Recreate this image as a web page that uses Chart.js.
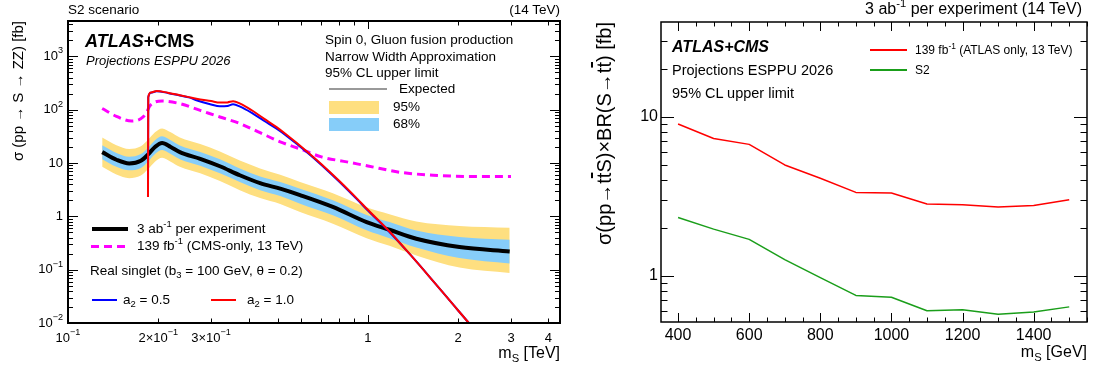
<!DOCTYPE html>
<html>
<head>
<meta charset="utf-8">
<script src="https://cdn.jsdelivr.net/npm/chart.js@4.4.1/dist/chart.umd.min.js"></script>
<style>
  body { margin: 0; background: #fff; }
  #page { position: relative; width: 1099px; height: 372px; overflow: hidden;
          font-family: 'Liberation Sans', Arial, Helvetica, sans-serif; color: #000; }
  canvas { position: absolute; top: 0; }
  .t { position: absolute; white-space: nowrap; line-height: 1; }
  .t sup, .t sub { font-size: 0.7em; line-height: 0; }
  .t sup { vertical-align: 0.6em; }
  .t sub { vertical-align: -0.35em; }
  .sw { position: absolute; }
  .bar { text-decoration: overline; }
  .rot { transform: rotate(-90deg); transform-origin: left top; width: 300px; text-align: right; }
</style>
</head>
<body>
<div id="page">
  <canvas id="zz" width="580" height="372" style="left:0"></canvas>
  <canvas id="tt" width="519" height="372" style="left:580px"></canvas>

  <!-- left panel: S -> ZZ -->
  <div class="t" style="left:68px;top:3px;font-size:13.5px">S2 scenario</div>
  <div class="t" style="right:539px;top:3px;font-size:13.5px">(14 TeV)</div>
  <div class="t" style="left:85px;top:32px;font-size:18px;font-weight:bold"><i>ATLAS</i>+CMS</div>
  <div class="t" style="left:86px;top:54px;font-size:13px;font-style:italic">Projections ESPPU 2026</div>
  <div class="t" style="left:325px;top:33px;font-size:13.5px">Spin 0, Gluon fusion production</div>
  <div class="t" style="left:325px;top:50px;font-size:13.5px">Narrow Width Approximation</div>
  <div class="t" style="left:325px;top:66px;font-size:13.5px">95% CL upper limit</div>
  <div class="sw" style="left:329px;top:88px;width:58px;height:1.5px;background:#999"></div>
  <div class="t" style="left:399px;top:82px;font-size:13.5px">Expected</div>
  <div class="sw" style="left:329px;top:101px;width:50px;height:13px;background:#fedf80"></div>
  <div class="t" style="left:393px;top:100px;font-size:13.5px">95%</div>
  <div class="sw" style="left:329px;top:118px;width:50px;height:13px;background:#86cdf9"></div>
  <div class="t" style="left:393px;top:117px;font-size:13.5px">68%</div>

  <div class="sw" style="left:92px;top:227px;width:36px;height:4px;background:#000"></div>
  <div class="t" style="left:137px;top:222px;font-size:13.5px">3 ab<sup>-1</sup> per experiment</div>
  <div class="sw" style="left:91px;top:244.5px;width:38px;height:3px;background:repeating-linear-gradient(to right,#f0f 0 8px,transparent 8px 13px)"></div>
  <div class="t" style="left:137px;top:239px;font-size:13.5px">139 fb<sup>-1</sup> (CMS-only, 13 TeV)</div>
  <div class="t" style="left:90px;top:264px;font-size:13.5px">Real singlet (b<sub>3</sub> = 100 GeV, θ = 0.2)</div>
  <div class="sw" style="left:92px;top:299px;width:25px;height:2px;background:#00f"></div>
  <div class="t" style="left:123px;top:293px;font-size:13.5px">a<sub>2</sub> = 0.5</div>
  <div class="sw" style="left:211px;top:299px;width:25px;height:2px;background:#f00"></div>
  <div class="t" style="left:247px;top:293px;font-size:13.5px">a<sub>2</sub> = 1.0</div>

  <div class="t rot" style="left:9.5px;top:321px;font-size:15px">σ (pp → S → ZZ) [fb]</div>
  <div class="t" style="right:539px;top:345px;font-size:16px">m<sub>S</sub> [TeV]</div>

  <!-- right panel: ttS, S -> tt -->
  <div class="t" style="right:17px;top:1px;font-size:16px">3 ab<sup>-1</sup> per experiment (14 TeV)</div>
  <div class="t" style="left:672px;top:39px;font-size:16px;font-weight:bold;font-style:italic">ATLAS+CMS</div>
  <div class="t" style="left:672px;top:63px;font-size:14.5px">Projections ESPPU 2026</div>
  <div class="t" style="left:672px;top:86px;font-size:14.5px">95% CL upper limit</div>
  <div class="sw" style="left:870px;top:49.3px;width:37px;height:1.5px;background:#f00"></div>
  <div class="t" style="left:915px;top:44px;font-size:12px">139 fb<sup>-1</sup> (ATLAS only, 13 TeV)</div>
  <div class="sw" style="left:870px;top:69.3px;width:37px;height:1.5px;background:#1a9e1a"></div>
  <div class="t" style="left:915px;top:64px;font-size:12px">S2</div>

  <div class="t rot" style="left:594px;top:322px;font-size:20px">σ(pp→t<span class="bar">t</span>S)×BR(S→t<span class="bar">t</span>) [fb]</div>
  <div class="t" style="right:12px;top:344px;font-size:16px">m<sub>S</sub> [GeV]</div>
</div>

<script>
// ---- S -> ZZ limits (mass in TeV, cross section in fb) ----
const zzMass = [0.13, 0.145, 0.16, 0.175, 0.185, 0.195, 0.206, 0.22, 0.236, 0.276, 0.321,
                0.374, 0.437, 0.51, 0.594, 0.764, 0.99, 1.18, 1.45, 2.02, 2.97];
const zzExpected = [16, 11.5, 9.8, 11, 14.5, 20, 23.7, 20, 16, 12, 8.7,
                    5.9, 4.2, 3.3, 2.5, 1.5, 0.78, 0.56, 0.38, 0.266, 0.22];
const zzUp95 = [30, 21.6, 18.4, 20.7, 27.3, 37.6, 44.6, 37.6, 30, 22.6, 16.4,
                11.1, 7.9, 6.0, 4.4, 2.7, 1.48, 1.1, 0.8, 0.66, 0.61];
const zzUp68 = [21.5, 15.4, 13.1, 14.7, 19.4, 26.8, 31.8, 26.8, 21.4, 16.1, 11.7,
                7.9, 5.6, 4.4, 3.3, 2.0, 1.06, 0.78, 0.54, 0.41, 0.365];
const zzDn68 = [11.8, 8.5, 7.3, 8.1, 10.7, 14.8, 17.5, 14.8, 11.8, 8.9, 6.4,
                4.4, 3.1, 2.4, 1.73, 1.05, 0.55, 0.39, 0.26, 0.165, 0.13];
const zzDn95 = [8.5, 6.1, 5.2, 5.8, 7.7, 10.6, 12.6, 10.6, 8.5, 6.4, 4.6,
                3.1, 2.2, 1.7, 1.2, 0.73, 0.39, 0.28, 0.185, 0.11, 0.087];

const cmsMass = [0.13, 0.145, 0.163, 0.178, 0.183, 0.188, 0.206, 0.236, 0.276, 0.321, 0.374,
                 0.437, 0.51, 0.6, 0.7, 0.85, 1.0, 1.28, 1.65, 2.2, 3.0];
const cmsObserved = [105, 75, 61, 73, 91, 120, 145, 130, 97, 73, 55,
                     37, 25, 18, 13, 10.5, 8.8, 6.7, 5.9, 5.6, 5.6];

const singletMass = [0.1848, 0.1852, 0.189, 0.1975, 0.215, 0.236, 0.255, 0.268, 0.3, 0.321, 0.34,
                     0.355, 0.375, 0.41, 0.45, 0.496, 0.533, 0.626, 0.7, 0.8, 0.92,
                     0.99, 1.18, 1.38, 1.61, 1.9, 2.17, 2.5];
const singletA2p5 = [2.3, 170, 208, 222, 206, 184, 168, 150, 125, 116, 117,
                     126, 114, 87, 62, 44, 33, 16, 9.2, 4.55, 2.08,
                     1.36, 0.51, 0.195, 0.072, 0.024, 0.01, 0.0038];
const singletA1p0 = [2.3, 172, 210, 224, 208, 186, 170, 161, 145, 136, 137,
                     144, 130, 97.5, 68, 47, 34.5, 16.5, 9.5, 4.7, 2.15,
                     1.4, 0.52, 0.195, 0.072, 0.024, 0.01, 0.0038];

const zzXTicks = [0.1, 0.2, 0.3, 1, 2, 3, 4];
const zzXTickText = [['10', '−1'], ['2×10', '−1'], ['3×10', '−1'], ['1'], ['2'], ['3'], ['4']];
const zzYTicks = [1000, 100, 10, 1, 0.1, 0.01];
const zzYTickText = [['10', '3'], ['10', '2'], ['10'], ['1'], ['10', '−1'], ['10', '−2']];

// ---- ttS, S -> tt limits (mass in GeV, fb) ----
const ttMass = [400, 500, 600, 700, 800, 900, 1000, 1100, 1200, 1300, 1400, 1500];
const ttAtlas13 = [9.0, 7.3, 6.7, 4.97, 4.1, 3.34, 3.31, 2.82, 2.79, 2.70, 2.76, 3.0];
const ttS2 = [2.32, 1.96, 1.69, 1.26, 0.97, 0.75, 0.73, 0.60, 0.61, 0.57, 0.59, 0.635];

const ttXTicks = [400, 600, 800, 1000, 1200, 1400];
const ttXTickText = ttXTicks.map(v => [String(v)]);
const ttYTicks = [1, 10];
const ttYTickText = [['1'], ['10']];

const FONT = "'Liberation Sans', Arial, Helvetica, sans-serif";

function pts(xs, ys) {
  return xs.map((x, i) => ({ x: x, y: ys[i] }));
}

// tick positions: 1..9 per decade on log axes, every 50 on the linear one
function tickValues(scale) {
  const out = [];
  if (scale.type === 'logarithmic') {
    const lo = Math.floor(Math.log10(scale.min)), hi = Math.ceil(Math.log10(scale.max));
    for (let d = lo; d <= hi; d++) {
      for (let k = 1; k <= 9; k++) {
        const v = k * Math.pow(10, d);
        if (v >= scale.min * 0.999 && v <= scale.max) out.push([v, k === 1]);
      }
    }
  } else {
    for (let v = Math.ceil(scale.min / 50) * 50; v <= scale.max; v += 50) out.push([v, v % 200 === 0]);
  }
  return out;
}

function drawTickText(ctx, parts, x, y, size, align) {
  const base = parts[0], exp = parts[1];
  const es = size * 0.7;
  ctx.font = size + 'px ' + FONT;
  const wb = ctx.measureText(base).width;
  let we = 0;
  if (exp) {
    ctx.font = es + 'px ' + FONT;
    we = ctx.measureText(exp).width;
  }
  const total = wb + we;
  const x0 = align === 'right' ? x - total : x - total / 2;
  ctx.textAlign = 'left';
  ctx.textBaseline = 'middle';
  ctx.font = size + 'px ' + FONT;
  ctx.fillText(base, x0, y);
  if (exp) {
    ctx.font = es + 'px ' + FONT;
    ctx.fillText(exp, x0 + wb, y - size * 0.42);
  }
}

// ROOT-like frame: inward ticks on all four sides, labels outside
const frameAxes = {
  id: 'frameAxes',
  afterDatasetsDraw(chart, args, o) {
    const { ctx, chartArea: a } = chart;
    const xs = chart.scales.x, ys = chart.scales.y;
    ctx.save();
    ctx.strokeStyle = '#000';
    ctx.lineWidth = 1;
    ctx.beginPath();
    tickValues(xs).forEach(([v, major]) => {
      const p = Math.round(xs.getPixelForValue(v)) + 0.5;
      const len = major ? o.xLen[0] : o.xLen[1];
      ctx.moveTo(p, a.bottom); ctx.lineTo(p, a.bottom - len);
      ctx.moveTo(p, a.top); ctx.lineTo(p, a.top + len);
    });
    tickValues(ys).forEach(([v, major]) => {
      const p = Math.round(ys.getPixelForValue(v)) + 0.5;
      const len = major ? o.yLen[0] : o.yLen[1];
      ctx.moveTo(a.left, p); ctx.lineTo(a.left + len, p);
      ctx.moveTo(a.right, p); ctx.lineTo(a.right - len, p);
    });
    ctx.stroke();
    ctx.lineWidth = o.frame;
    ctx.strokeRect(a.left, a.top, a.right - a.left, a.bottom - a.top);
    ctx.fillStyle = '#000';
    o.xTicks.forEach((v, i) => drawTickText(ctx, o.xText[i], xs.getPixelForValue(v), a.bottom + o.xGap, o.size, 'center'));
    o.yTicks.forEach((v, i) => drawTickText(ctx, o.yText[i], a.left - o.yGap, ys.getPixelForValue(v), o.size, 'right'));
    ctx.restore();
  }
};

const common = {
  responsive: false,
  animation: false,
  devicePixelRatio: 1,
  elements: { point: { radius: 0 }, line: { cubicInterpolationMode: 'monotone', borderJoinStyle: 'round' } },
  events: []
};

new Chart(document.getElementById('zz').getContext('2d'), {
  type: 'line',
  data: {
    datasets: [
      { data: pts(singletMass, singletA1p0), borderColor: '#ff0000', borderWidth: 2, fill: false, order: 0 },
      { data: pts(singletMass, singletA2p5), borderColor: '#0000ff', borderWidth: 2, fill: false, order: 1 },
      { data: pts(zzMass, zzExpected), borderColor: '#000000', borderWidth: 4, fill: false, order: 2 },
      { data: pts(cmsMass, cmsObserved), borderColor: '#ff00ff', borderWidth: 3, borderDash: [8, 5], fill: false, order: 3 },
      { data: pts(zzMass, zzUp68), borderWidth: 0, borderColor: 'rgba(0,0,0,0)', backgroundColor: '#86cdf9', fill: 5, order: 4 },
      { data: pts(zzMass, zzDn68), borderWidth: 0, borderColor: 'rgba(0,0,0,0)', fill: false, order: 5 },
      { data: pts(zzMass, zzUp95), borderWidth: 0, borderColor: 'rgba(0,0,0,0)', backgroundColor: '#fedf80', fill: 7, order: 6 },
      { data: pts(zzMass, zzDn95), borderWidth: 0, borderColor: 'rgba(0,0,0,0)', fill: false, order: 7 }
    ]
  },
  options: Object.assign({}, common, {
    layout: { padding: { left: 68, top: 21, right: 20, bottom: 49 } },
    scales: {
      x: { type: 'logarithmic', min: 0.1, max: 4.37, display: false },
      y: { type: 'logarithmic', min: 0.01, max: 4600, display: false }
    },
    plugins: {
      legend: { display: false },
      tooltip: { enabled: false },
      frameAxes: {
        frame: 2, xLen: [8, 4.5], yLen: [10, 5], size: 13, xGap: 15, yGap: 5,
        xTicks: zzXTicks, xText: zzXTickText, yTicks: zzYTicks, yText: zzYTickText
      }
    }
  }),
  plugins: [frameAxes]
});

new Chart(document.getElementById('tt').getContext('2d'), {
  type: 'line',
  data: {
    datasets: [
      { data: pts(ttMass, ttAtlas13), borderColor: '#ff0000', borderWidth: 1.5, fill: false, cubicInterpolationMode: 'default', tension: 0 },
      { data: pts(ttMass, ttS2), borderColor: '#1a9e1a', borderWidth: 1.5, fill: false, cubicInterpolationMode: 'default', tension: 0 }
    ]
  },
  options: Object.assign({}, common, {
    layout: { padding: { left: 81, top: 22, right: 12, bottom: 50 } },
    scales: {
      x: { type: 'linear', min: 352, max: 1550, display: false },
      y: { type: 'logarithmic', min: 0.51, max: 39.5, display: false }
    },
    plugins: {
      legend: { display: false },
      tooltip: { enabled: false },
      frameAxes: {
        frame: 1.5, xLen: [9, 4.5], yLen: [13, 6.5], size: 16, xGap: 14, yGap: 3,
        xTicks: ttXTicks, xText: ttXTickText, yTicks: ttYTicks, yText: ttYTickText
      }
    }
  }),
  plugins: [frameAxes]
});
</script>
</body>
</html>
